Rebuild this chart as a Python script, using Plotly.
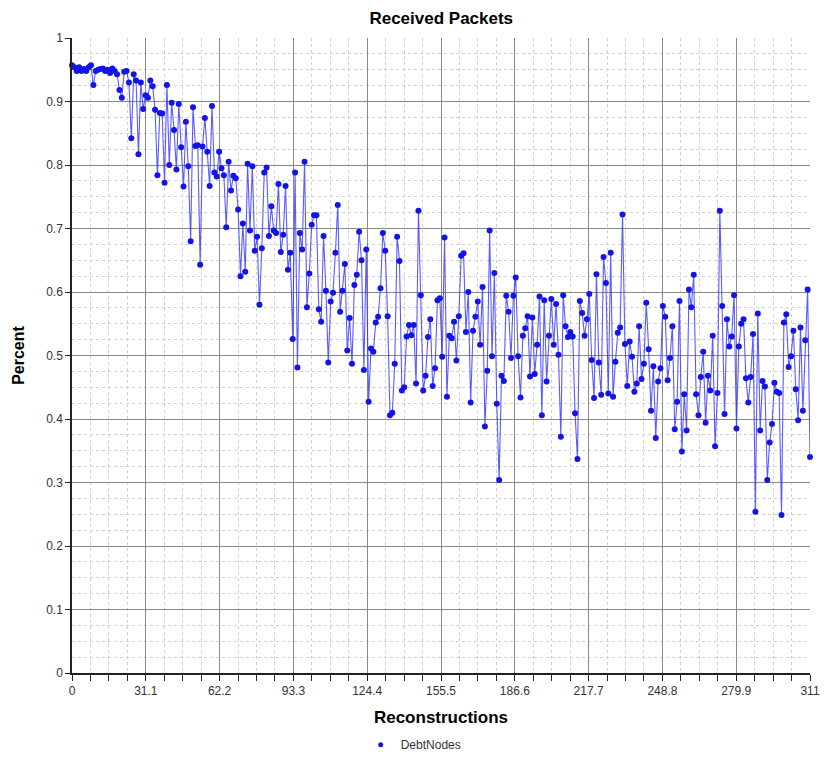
import plotly.graph_objects as go

# Received packet percentage per reconstruction
percent = [
    0.957, 0.954, 0.948, 0.954, 0.948, 0.951, 0.948, 0.954, 0.957, 0.926,
    0.948, 0.950, 0.951, 0.952, 0.948, 0.950, 0.945, 0.952, 0.948, 0.943,
    0.918, 0.906, 0.947, 0.948, 0.930, 0.842, 0.943, 0.933, 0.817, 0.930,
    0.888, 0.910, 0.906, 0.933, 0.924, 0.887, 0.784, 0.882, 0.881, 0.772,
    0.926, 0.800, 0.898, 0.855, 0.793, 0.896, 0.828, 0.766, 0.868, 0.798,
    0.680, 0.891, 0.830, 0.831, 0.643, 0.829, 0.874, 0.821, 0.767, 0.893,
    0.788, 0.782, 0.821, 0.795, 0.784, 0.702, 0.805, 0.760, 0.783, 0.779,
    0.730, 0.625, 0.708, 0.632, 0.802, 0.697, 0.798, 0.665, 0.687, 0.580,
    0.669, 0.788, 0.796, 0.688, 0.735, 0.697, 0.693, 0.770, 0.663, 0.690,
    0.767, 0.635, 0.662, 0.526, 0.788, 0.481, 0.693, 0.667, 0.805, 0.576,
    0.629, 0.706, 0.721, 0.721, 0.573, 0.553, 0.688, 0.602, 0.489, 0.585,
    0.599, 0.662, 0.737, 0.569, 0.602, 0.644, 0.508, 0.559, 0.487, 0.611,
    0.627, 0.695, 0.650, 0.477, 0.667, 0.427, 0.511, 0.506, 0.552, 0.561,
    0.606, 0.693, 0.665, 0.562, 0.406, 0.410, 0.487, 0.687, 0.649, 0.445,
    0.450, 0.530, 0.548, 0.532, 0.548, 0.456, 0.728, 0.595, 0.445, 0.468,
    0.529, 0.557, 0.452, 0.480, 0.587, 0.590, 0.498, 0.686, 0.435, 0.531,
    0.527, 0.553, 0.492, 0.562, 0.657, 0.661, 0.537, 0.600, 0.426, 0.539,
    0.561, 0.585, 0.517, 0.608, 0.388, 0.476, 0.697, 0.499, 0.630, 0.424,
    0.304, 0.468, 0.460, 0.594, 0.569, 0.496, 0.594, 0.623, 0.499, 0.434,
    0.531, 0.543, 0.562, 0.467, 0.560, 0.471, 0.517, 0.593, 0.406, 0.587,
    0.459, 0.531, 0.589, 0.517, 0.581, 0.501, 0.372, 0.595, 0.546, 0.529,
    0.537, 0.530, 0.409, 0.337, 0.586, 0.567, 0.531, 0.557, 0.597, 0.493,
    0.433, 0.628, 0.489, 0.438, 0.655, 0.614, 0.440, 0.662, 0.435, 0.490,
    0.536, 0.544, 0.722, 0.518, 0.452, 0.522, 0.498, 0.443, 0.456, 0.546,
    0.463, 0.487, 0.583, 0.510, 0.413, 0.483, 0.370, 0.459, 0.480, 0.578,
    0.561, 0.461, 0.496, 0.546, 0.384, 0.427, 0.586, 0.349, 0.439, 0.382,
    0.604, 0.576, 0.627, 0.439, 0.406, 0.466, 0.506, 0.394, 0.468, 0.445,
    0.531, 0.357, 0.441, 0.728, 0.578, 0.408, 0.557, 0.514, 0.530, 0.595,
    0.385, 0.514, 0.550, 0.557, 0.464, 0.426, 0.466, 0.534, 0.254, 0.566,
    0.382, 0.460, 0.451, 0.304, 0.363, 0.392, 0.457, 0.443, 0.441, 0.249,
    0.552, 0.565, 0.482, 0.499, 0.539, 0.447, 0.398, 0.544, 0.413, 0.524,
    0.604, 0.340,
]
reconstructions = list(range(len(percent)))

x_tick_vals = [0, 31.1, 62.2, 93.3, 124.4, 155.5, 186.6, 217.7, 248.8, 279.9, 311]
x_tick_text = ["0", "31.1", "62.2", "93.3", "124.4", "155.5", "186.6", "217.7", "248.8", "279.9", "311"]
y_tick_vals = [0, 0.1, 0.2, 0.3, 0.4, 0.5, 0.6, 0.7, 0.8, 0.9, 1.0]
y_tick_text = ["0", "0.1", "0.2", "0.3", "0.4", "0.5", "0.6", "0.7", "0.8", "0.9", "1"]

FONT = "Liberation Sans, Arial, sans-serif"
BLUE = "#1414e6"

fig = go.Figure()
fig.add_trace(go.Scatter(
    x=reconstructions, y=percent, mode="lines+markers", name="DebtNodes",
    line=dict(color="rgba(50,50,255,0.8)", width=1.1),
    marker=dict(color=BLUE, size=6, line=dict(width=0)),
    cliponaxis=False, showlegend=False,
))
# legend entry: marker only, like the reference
fig.add_trace(go.Scatter(
    x=[None], y=[None], mode="markers", name="DebtNodes",
    marker=dict(color=BLUE, size=5), showlegend=True,
))

fig.update_layout(
    width=824, height=759,
    margin=dict(l=72, r=14, t=38, b=86, autoexpand=False),
    paper_bgcolor="white", plot_bgcolor="white",
    font=dict(family=FONT, size=12, color="#333"),
    title=dict(text="<b>Received Packets</b>", x=0.5355, xanchor="center",
               y=1 - 18 / 759, yanchor="middle", yref="container",
               font=dict(family=FONT, size=17, color="#000")),
    showlegend=True,
    legend=dict(orientation="h", x=0.463, xanchor="center", y=-0.113, yanchor="middle",
                font=dict(family=FONT, size=12, color="#333"), itemwidth=30,
                bgcolor="rgba(0,0,0,0)"),
)

fig.update_xaxes(
    range=[0, 311], tickvals=x_tick_vals, ticktext=x_tick_text,
    showgrid=True, gridcolor="#8a8a8a", gridwidth=1,
    showline=True, linecolor="#222", linewidth=1.5,
    ticks="outside", ticklen=6, tickcolor="#222",
    zeroline=False, automargin=False,
    tickfont=dict(family=FONT, size=12, color="#333"),
    title=dict(text="<b>Reconstructions</b>", font=dict(family=FONT, size=17, color="#000"), standoff=14),
    minor=dict(dtick=7.775, tick0=0, showgrid=True, gridcolor="#d0d0d0", griddash="3px,3px",
               gridwidth=1, ticks="outside", ticklen=6, tickcolor="#222"),
)
fig.update_yaxes(
    range=[0, 1], tickvals=y_tick_vals, ticktext=y_tick_text,
    showgrid=True, gridcolor="#8a8a8a", gridwidth=1,
    showline=True, linecolor="#222", linewidth=1.5,
    ticks="outside", ticklen=5, tickcolor="#222",
    zeroline=False, automargin=False,
    tickfont=dict(family=FONT, size=12, color="#333"),
    title=dict(text="<b>Percent</b>", font=dict(family=FONT, size=16, color="#000"), standoff=18),
    minor=dict(dtick=0.025, tick0=0, showgrid=True, gridcolor="#d0d0d0", griddash="3px,3px",
               gridwidth=1, ticks=""),
)

fig.write_html("out.html")
